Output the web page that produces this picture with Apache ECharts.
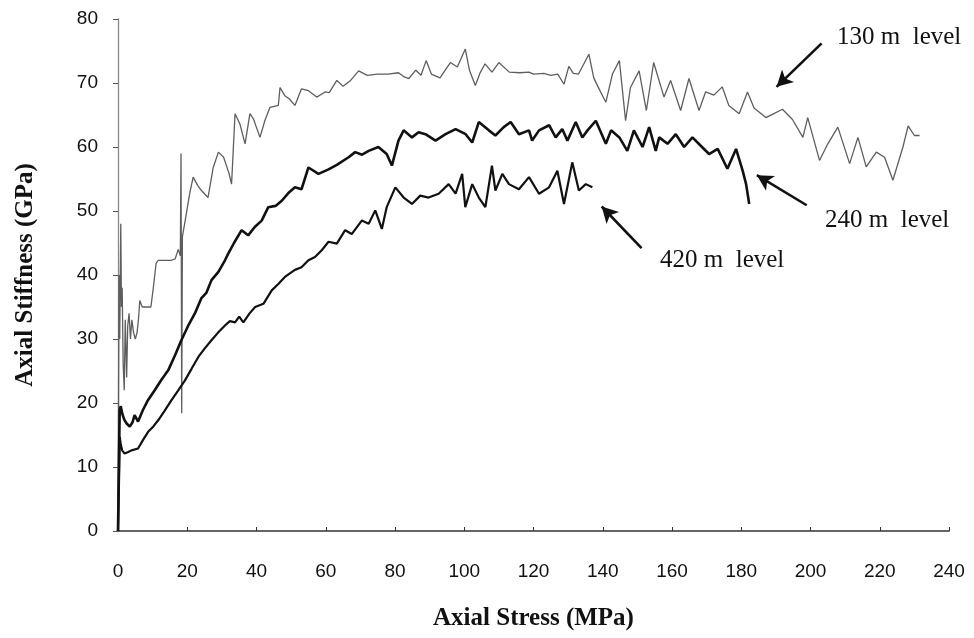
<!DOCTYPE html>
<html>
<head>
<meta charset="utf-8">
<script src="https://cdn.jsdelivr.net/npm/echarts@6/dist/echarts.min.js"></script>
<style>
  html, body { margin: 0; padding: 0; background: #fff; }
  #chart { width: 974px; height: 638px; }
</style>
</head>
<body>
<div id="chart"></div>
<script>
// Axial stiffness vs axial stress, three measurement levels ([stress MPa, stiffness GPa])
const level130 = [
  [0,0],[0.3,40],[0.5,30],[0.8,48],[1.0,35],[1.2,38],[1.5,26],[1.8,22],[2.1,33],[2.5,24],
  [2.8,32],[3.2,34],[3.6,30],[4.0,33],[4.5,31],[5.0,30],[5.5,31],[5.9,33],[6.3,36],[7.0,35],
  [8.0,35],[9.5,35],[10.2,38],[11.0,41.8],[11.6,42.3],[13.0,42.3],[15.3,42.3],[16.5,42.5],[17.4,44],[18.0,43],
  [18.2,59],[18.4,18.4],[18.6,46],[19.4,48.5],[20.7,52.7],[21.7,55.3],[23.0,54],[24.1,53.2],[26.0,52.1],[27.5,56.8],
  [29.0,59.2],[30.5,58.4],[32.0,56],[32.8,54.2],[33.8,65.2],[35.2,63.6],[36.7,60.5],[38.1,65.2],[39.1,64.4],[41.0,61.5],
  [42.4,64.1],[43.9,66.2],[46.3,66.5],[46.8,69.3],[48.2,68],[49.5,67.5],[51.1,66.5],[53.0,69.1],[55.0,68.8],[57.4,67.8],
  [59.8,68.6],[61.0,68.5],[63.2,70.4],[65.0,69.5],[67.0,70.3],[69.5,71.9],[72.0,71.2],[75.0,71.4],[78.0,71.4],[81.0,71.6],
  [82.5,71.0],[84.0,70.7],[86.0,72.0],[87.5,71.2],[89.0,73.5],[90.5,71.4],[93.0,70.8],[94.5,72.0],[96.0,73.2],[98.0,72.5],
  [100.3,75.3],[101.5,72.0],[103.2,69.6],[104.5,71.5],[106.0,73.0],[108.0,71.7],[110.0,73.2],[113.0,71.7],[116.0,71.6],[118.7,71.7],
  [120.0,71.4],[123.0,71.5],[125.0,71.2],[127.0,71.4],[128.8,69.8],[130.2,72.6],[131.5,71.5],[133.0,71.4],[136.0,74.5],[137.4,70.8],
  [139.0,69.0],[140.9,67.0],[142.8,71.4],[144.8,73.5],[146.6,64.1],[148.0,69.3],[150.5,71.9],[152.6,65.7],[154.7,73.2],[157.7,67.8],
  [159.6,70.4],[162.5,65.7],[164.9,70.7],[167.8,65.7],[169.7,68.6],[172.1,68.1],[174.5,69.4],[176.4,66.5],[179.4,65.2],[181.8,68.6],
  [183.7,66.1],[187.1,64.6],[189.0,65.1],[191.9,65.9],[194.8,64.3],[197.8,61.5],[199.2,64.6],[202.6,57.9],[205.0,60.5],[207.9,63.1],
  [211.3,57.4],[213.7,61.5],[216.1,56.9],[219.0,59.2],[221.4,58.4],[223.8,54.8],[226.7,60.0],[228.2,63.3],[230.0,61.8],[231.5,61.8]
];

const level240 = [
  [0,0],[0.3,12],[0.5,18.9],[0.8,19.5],[1.2,18.4],[1.8,17.4],[2.5,16.8],[3.4,16.3],[4.2,17],[4.8,18.1],
  [5.8,17.1],[7.2,18.9],[8.5,20.3],[10.6,22],[12.5,23.6],[14.5,25.1],[16.5,27.5],[18.3,29.8],[20.2,32],[22.2,34],
  [24.1,36.4],[25.5,37.2],[27,39.2],[29,40.5],[30.9,42.3],[31.8,43.3],[33.5,45],[35.7,47],[37.6,46.2],[39.5,47.5],
  [41.5,48.5],[43.4,50.6],[45.5,50.8],[47.3,51.6],[49.2,52.8],[51.1,53.7],[53,53.4],[55,56.8],[57.9,55.8],[60.8,56.5],
  [63.2,57.2],[66.6,58.4],[68.5,59.2],[70.5,58.8],[72.4,59.4],[75.2,60],[77.6,58.9],[79.1,57.1],[81,61],[82.5,62.6],
  [84.9,61.5],[86.8,62.3],[88.8,62],[91.7,61],[94.6,62],[97.5,62.8],[100.4,62],[102.3,60.7],[104.2,63.9],[107.1,62.6],
  [109,61.8],[111.4,63.1],[113.4,63.9],[115.8,62],[118.7,62.6],[119.6,61],[121.6,62.6],[124.5,63.4],[126.4,61.5],[128.3,62.8],
  [129.8,61],[132.2,63.9],[134.1,61.5],[135.6,62.6],[138,64.1],[140.9,60.5],[142.4,62.6],[144.8,61.5],[147.1,59.4],[149,62.6],
  [151.5,60],[153.4,63.1],[155.3,59.4],[156.3,61.5],[158.7,60.5],[161.1,62],[163.5,60],[165.9,61.5],[168.3,60.2],[170.7,58.9],
  [173.2,59.7],[176,56.6],[178.5,59.7],[180.4,56.3],[181.4,54.2],[182.3,51.1]
];

const level420 = [
  [0,0],[0.3,8],[0.5,14.7],[0.8,13.5],[1.2,12.6],[1.9,12.1],[2.8,12.3],[3.9,12.6],[5.8,12.9],[7.2,14.2],
  [8.7,15.5],[10,16.2],[11.6,17.3],[13.5,18.8],[15.4,20.4],[17.3,21.9],[19.3,23.5],[21.2,25.3],[23.2,27.2],[25,28.5],
  [27,29.8],[28.9,31],[30.9,32.1],[32.3,32.8],[33.8,32.6],[35,33.5],[36.2,32.6],[38,34],[39.6,35],[42,35.5],
  [44.4,37.6],[46.3,38.6],[48.2,39.7],[51.1,40.8],[53,41.2],[55,42.3],[56.9,42.8],[58.9,43.9],[60.8,45.2],[63.2,44.9],
  [65.6,47],[67.5,46.4],[70.4,48.5],[72.4,48],[74.3,50.1],[76.2,47.2],[77.6,50.6],[80.1,53.7],[82.5,52.1],[84.9,51.1],
  [87.3,52.4],[89.7,52.1],[92.6,52.7],[95.5,54.2],[97.5,52.7],[99.4,55.8],[100.3,50.6],[102.3,54.2],[104.2,52.1],[106.1,50.6],
  [108,57.1],[109,53.2],[111,55.8],[112.9,54.2],[115.8,53.4],[118.7,55.3],[121.6,52.7],[124.5,53.7],[126.9,56.3],[128.8,51.1],
  [131.2,57.6],[133.1,53.2],[135.1,54.2],[137,53.7]
];

// Callout arrows: [tail, head] in stress/stiffness units
const arrow130 = [[203.2, 76.2], [190.2, 69.4]];
const arrow240 = [[198.9, 50.9], [184.5, 55.6]];
const arrow420 = [[151.2, 44.2], [139.7, 50.7]];

const levelNames = ['130 m  level', '240 m  level', '420 m  level'];

const chart = echarts.init(document.getElementById('chart'));

function arrowMark(a) {
  return {
    silent: true,
    symbol: ['none', 'arrow'],
    symbolSize: [13, 16],
    label: { show: false },
    lineStyle: { color: '#111', width: 2.6, type: 'solid' },
    data: [[{ coord: a[0] }, { coord: a[1] }]]
  };
}

const labelFont = '25px "Liberation Serif", "Times New Roman", serif';

chart.setOption({
  animation: false,
  backgroundColor: '#fff',
  grid: { left: 118, right: 25, top: 19, bottom: 107, containLabel: false },
  xAxis: {
    type: 'value', min: 0, max: 240, interval: 20,
    name: 'Axial Stress (MPa)', nameLocation: 'middle', nameGap: 75,
    nameTextStyle: { fontFamily: 'Liberation Serif', fontWeight: 'bold', fontSize: 25, color: '#111' },
    axisLine: { show: true, onZero: false, lineStyle: { color: '#333', width: 1.6 } },
    axisTick: { show: true, inside: true, length: 4, lineStyle: { color: '#333' } },
    axisLabel: { margin: 31, fontFamily: 'Liberation Sans', fontSize: 19, color: '#111' },
    splitLine: { show: false }
  },
  yAxis: {
    type: 'value', min: 0, max: 80, interval: 10,
    name: 'Axial Stiffness (GPa)', nameLocation: 'middle', nameGap: 80,
    nameTextStyle: { fontFamily: 'Liberation Serif', fontWeight: 'bold', fontSize: 25, color: '#111' },
    axisLine: { show: true, lineStyle: { color: '#888', width: 1.3 } },
    axisTick: { show: true, inside: false, length: 5, lineStyle: { color: '#555' } },
    axisLabel: { margin: 20, fontFamily: 'Liberation Sans', fontSize: 19, color: '#111' },
    splitLine: { show: false }
  },
  series: [
    {
      name: levelNames[0], type: 'line', data: level130, showSymbol: false,
      lineStyle: { color: '#5e5e5e', width: 1.3 }, z: 2,
      markLine: arrowMark(arrow130)
    },
    {
      name: levelNames[1], type: 'line', data: level240, showSymbol: false,
      lineStyle: { color: '#111', width: 2.6 }, z: 3,
      markLine: arrowMark(arrow240)
    },
    {
      name: levelNames[2], type: 'line', data: level420, showSymbol: false,
      lineStyle: { color: '#111', width: 2.2 }, z: 3,
      markLine: arrowMark(arrow420)
    }
  ],
  graphic: [
    { type: 'text', x: 837, y: 37, style: { text: levelNames[0], font: labelFont, fill: '#111', verticalAlign: 'middle' } },
    { type: 'text', x: 825, y: 220, style: { text: levelNames[1], font: labelFont, fill: '#111', verticalAlign: 'middle' } },
    { type: 'text', x: 660, y: 260, style: { text: levelNames[2], font: labelFont, fill: '#111', verticalAlign: 'middle' } }
  ]
});
</script>
</body>
</html>
